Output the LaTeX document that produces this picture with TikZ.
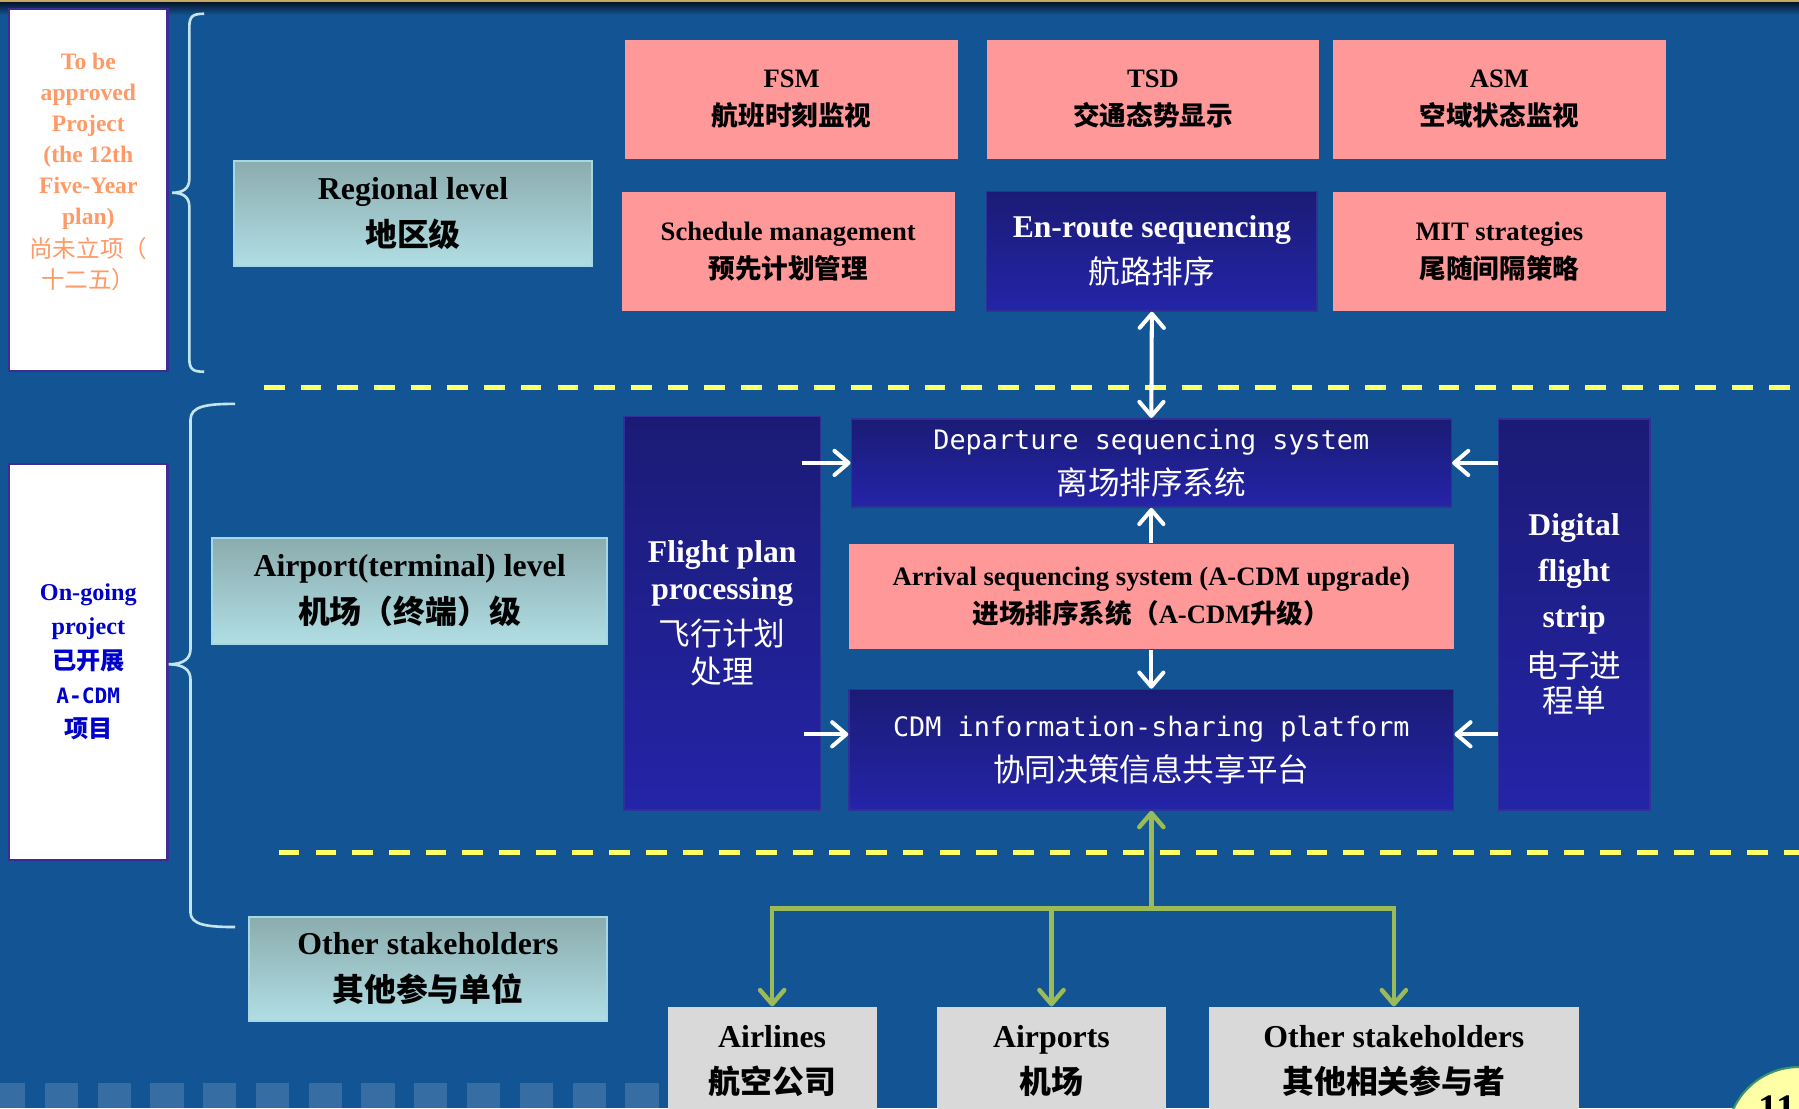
\documentclass[tikz,border=0pt]{standalone}
\usepackage{fontspec}
\setmainfont{Liberation Serif}
\setmonofont{DejaVu Sans Mono}
\newfontfamily\cjk{Noto Sans CJK SC}
\usetikzlibrary{arrows.meta}

\definecolor{bgblue}{RGB}{19,85,148}
\definecolor{topgold}{RGB}{196,168,100}
\definecolor{topdark}{RGB}{6,24,48}
\definecolor{navytop}{RGB}{27,27,118}
\definecolor{navybot}{RGB}{36,36,168}
\definecolor{navyedge}{RGB}{48,48,150}
\definecolor{boxpink}{RGB}{255,153,153}
\definecolor{levtop}{RGB}{139,172,174}
\definecolor{levbot}{RGB}{176,222,228}
\definecolor{levedge}{RGB}{165,215,228}
\definecolor{boxgrey}{RGB}{217,217,217}
\definecolor{boxedge}{RGB}{62,44,150}
\definecolor{dashyellow}{RGB}{255,255,102}
\definecolor{leafgreen}{RGB}{155,187,89}
\definecolor{bracecol}{RGB}{196,228,236}
\definecolor{txtorange}{RGB}{255,153,102}
\definecolor{txtblue}{RGB}{0,0,204}
\definecolor{circyellow}{RGB}{255,255,166}
\definecolor{circgreen}{RGB}{60,150,100}

\newcommand{\zh}[1]{{\cjk #1}}
\newcommand{\zhr}[1]{{\cjk\mdseries #1}}

\tikzset{
  box/.style={inner sep=0pt, align=center},
  pinkbox/.style={box, fill=boxpink, minimum width=5.8cm, minimum height=2.08cm,
    font=\bfseries\fontsize{13.2}{18.8}\selectfont},
  navybox/.style={box, top color=navytop, bottom color=navybot, draw=navyedge,
    line width=0.8pt, text=white},
  levelbox/.style={box, top color=levtop, bottom color=levbot, draw=levedge,
    line width=1pt, minimum height=1.84cm,
    font=\bfseries\fontsize{15.8}{23.3}\selectfont},
  greybox/.style={box, fill=boxgrey, minimum height=1.9cm,
    font=\bfseries\fontsize{15.8}{22.8}\selectfont},
  whitebox/.style={box, fill=white, draw=boxedge, line width=1pt, minimum width=2.76cm},
  warrow/.style={draw=white, line width=2pt},
  garrow/.style={draw=leafgreen, line width=2.2pt},
  sepline/.style={draw=dashyellow, line width=2.5pt, dash pattern=on 0.36cm off 0.28cm},
  bracepath/.style={draw=bracecol, line width=1.3pt},
}

\begin{document}
\begin{tikzpicture}[x=0.02cm,y=-0.02cm,>={Straight Barb[length=7pt,width=12pt,round]},
        node distance=6.3cm]

  % slide background
  \useasboundingbox (0,0) rectangle (1568,966);
  \fill[bgblue] (0,0) rectangle (1568,966);
  \fill[topgold] (0,0) rectangle (1568,2.5);
  \shade[top color=topdark, bottom color=bgblue] (0,2.5) rectangle (1568,13);
  \foreach \i in {0,...,12}
    \fill[white, fill opacity=0.15] (-7+46*\i,944) rectangle ++(29,30);

  % project status
  \node[whitebox, minimum height=6.3cm] (tbd) at (77,165.5) {};
  \node[box, text=txtorange, font=\bfseries\fontsize{11.7}{15.4}\selectfont] (tbdtxt) at (77,150)
    {To be\\approved\\Project\\(the 12th\\Five-Year\\plan)\\[1pt]
     \zhr{尚未立项（}\\\zhr{十二五）}};
  \node[whitebox, minimum height=6.92cm, text=txtblue,
        font=\bfseries\fontsize{12}{17}\selectfont] (going) at (77,577)
    {On-going\\project\\\zh{已开展}\\{\ttfamily\fontsize{10.5}{17}\selectfont A-CDM}\\\zh{项目}};

  % braces
  \draw[bracepath] (178,12) .. controls (168,12) and (165,14) .. (165,24) -- (165,156)
    .. controls (165,164) and (160,168) .. (150,168)
    .. controls (160,168) and (165,172) .. (165,180) -- (165,312)
    .. controls (165,322) and (168,324) .. (178,324);
  \draw[bracepath] (205,352) .. controls (180,352) and (166,354) .. (166,366) -- (166,566)
    .. controls (166,574) and (160,579) .. (147,579)
    .. controls (160,579) and (166,584) .. (166,592) -- (166,795)
    .. controls (166,806) and (180,808) .. (205,808);

  % levels
  \node[levelbox, minimum width=6.24cm] (regional) at (360,186) {Regional level\\\zh{地区级}};
  \node[levelbox, minimum width=6.88cm] (airport) at (357,515) {Airport(terminal) level\\\zh{机场（终端）级}};
  \node[levelbox, minimum width=6.24cm, minimum height=1.82cm] (others) at (373,844.5)
    {Other stakeholders\\\zh{其他参与单位}};

  % regional level systems
  \node[pinkbox] (fsm) at (690,86.5) {FSM\\\zh{航班时刻监视}};
  \node[pinkbox] (tsd) [right of=fsm] {TSD\\\zh{交通态势显示}};
  \node[pinkbox] (asm) [right of=tsd, node distance=6.04cm] {ASM\\\zh{空域状态监视}};
  \node[pinkbox] (sched) at (687,219) {Schedule management\\\zh{预先计划管理}};
  \node[navybox, minimum width=5.76cm, minimum height=2.08cm,
        font=\bfseries\fontsize{15.7}{22.8}\selectfont] (enroute) [right of=sched, node distance=6.34cm]
    {En-route sequencing\\\zhr{航路排序}};
  \node[pinkbox] (mit) [right of=enroute, node distance=6.06cm] {MIT strategies\\\zh{尾随间隔策略}};

  \draw[sepline] (230,338) -- (1568,338);
  \draw[sepline] (243,743) -- (1568,743);

  % airport level systems
  \node[navybox, minimum width=10.46cm, minimum height=1.54cm,
        font=\ttfamily\fontsize{13.3}{22.2}\selectfont] (dep) at (1003.5,403.5)
    {Departure sequencing system\\\zhr{\fontsize{15.7}{22.2}\selectfont 离场排序系统}};
  \node[pinkbox, minimum width=10.54cm, minimum height=1.84cm] (arr) [below of=dep, node distance=2.33cm]
    {Arrival sequencing system (A-CDM upgrade)\\\zh{进场排序系统（}A-CDM\zh{升级）}};
  \node[navybox, minimum width=10.54cm, minimum height=2.1cm,
        font=\ttfamily\fontsize{13.3}{22.2}\selectfont] (cdm) [below of=arr, node distance=2.67cm]
    {CDM information-sharing platform\\\zhr{\fontsize{15.7}{22.2}\selectfont 协同决策信息共享平台}};
  \node[navybox, minimum width=3.42cm, minimum height=6.86cm,
        font=\bfseries\fontsize{15.7}{18.8}\selectfont] (fpp) at (629.5,534.5)
    {Flight plan\\processing\\[4pt]\zhr{飞行计划}\\\zhr{处理}};
  \node[navybox, minimum width=2.64cm, minimum height=6.82cm,
        font=\bfseries\fontsize{15.7}{22.8}\selectfont] (dfs) at (1372,535.5)
    {Digital\\flight\\strip\\[2pt]\zhr{电子进}\\[-5.5pt]\zhr{程单}};

  \draw[warrow,<->] (enroute.south) -- (dep.north);
  \draw[warrow,->] ([xshift=-0.34cm]fpp.east |- dep.west) -- (dep.west);
  \draw[warrow,->] ([xshift=-0.3cm]fpp.east |- 0,640) -- (cdm.west |- 0,640);
  \draw[warrow,->] (dfs.west |- dep.east) -- (dep.east);
  \draw[warrow,->] (dfs.west |- 0,640) -- (cdm.east |- 0,640);
  \draw[warrow,->] (arr.north) -- (dep.south);
  \draw[warrow,->] (arr.south) -- (cdm.north);

  % other stakeholders
  \node[greybox, minimum width=3.64cm] (airl) at (673,925) {Airlines\\\zh{航空公司}};
  \node[greybox, minimum width=3.98cm] (airp) [right of=airl, node distance=4.87cm] {Airports\\\zh{机场}};
  \node[greybox, minimum width=6.44cm] (oth) [right of=airp, node distance=5.97cm]
    {Other stakeholders\\\zh{其他相关参与者}};

  \coordinate (hub) at (cdm.south |- 0,792);
  \draw[garrow,->] (hub) -- (cdm.south);
  \draw[garrow,->] (hub) -| (airl.north);
  \draw[garrow,->] (hub) -| (airp.north);
  \draw[garrow,->] (hub) -| (oth.north);

  % page number
  \node[circle, fill=circyellow, draw=circgreen, line width=1pt, minimum size=2.52cm,
        inner sep=0pt] (pgring) at (1568,993) {};
  \node[font=\bfseries\fontsize{19.3}{20}\selectfont, inner sep=0pt] (pgnum) at (1549,966) {11};

\end{tikzpicture}
\end{document}
